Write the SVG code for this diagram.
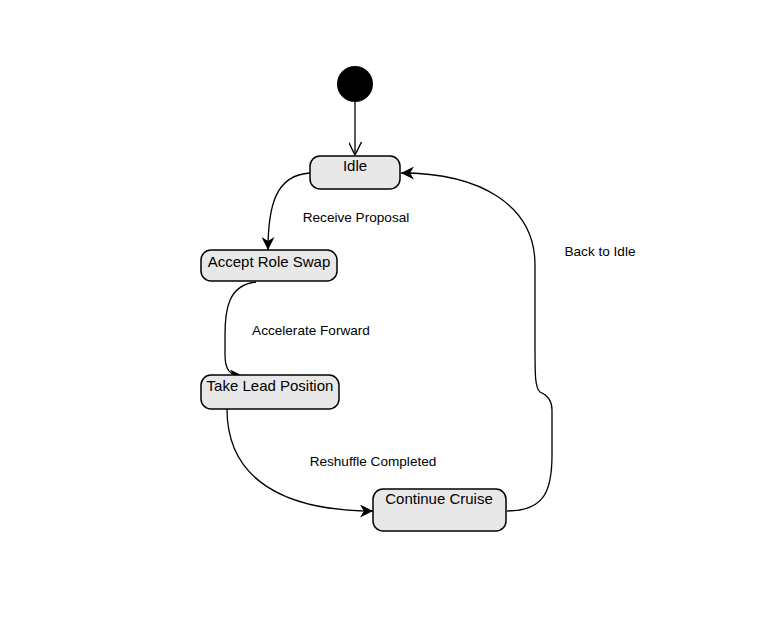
<svg xmlns="http://www.w3.org/2000/svg" width="776" height="627" viewBox="0 0 776 627">
<style>
.node rect{fill:#e8e8e8;stroke:#000;stroke-width:1.5}
.nt{font-family:"Liberation Sans",Arial,sans-serif;font-size:15px;fill:#000;text-anchor:middle}
.lt{font-family:"Liberation Sans",Arial,sans-serif;font-size:13.6px;fill:#000;text-anchor:middle}
.edge{fill:none;stroke:#000;stroke-width:1.3}
</style>
<defs>
<marker id="arr" viewBox="0 0 10 10" refX="10" refY="5" markerWidth="13" markerHeight="13" markerUnits="userSpaceOnUse" orient="auto">
<path d="M0,0 L10,5 L0,10 L3,5 z" fill="#000"/>
</marker>
<marker id="open" viewBox="0 0 10 10" refX="10" refY="5" markerWidth="13" markerHeight="13" markerUnits="userSpaceOnUse" orient="auto">
<path d="M0,0 L10,5 L0,10" fill="none" stroke="#000" stroke-width="1.1"/>
</marker>
</defs>
<rect width="776" height="627" fill="#fff"/>
<g id="connectors">
<path class="edge" d="M355,102 L355,155" marker-end="url(#open)"/>
<path class="edge" d="M310,173 C276,175 268,205 268,250" marker-end="url(#arr)"/>
<path class="edge" d="M256,282 C228,285 225,310 225,335 L225,355 C225,370 230,376 243,376" marker-end="url(#arr)"/>
<path class="edge" d="M227,409 C227,480 285,511 373,511" marker-end="url(#arr)"/>
<path class="edge" d="M507,511 C545,511 552,490 552,455 L552,410 C552,398 545,394 540,392 C535,388 535,375 535,345 L535,265 C535,205 480,173 401,173" marker-end="url(#arr)"/>
<text class="lt" x="356" y="222">Receive Proposal</text>
<text class="lt" x="311" y="335">Accelerate Forward</text>
<text class="lt" x="373" y="466">Reshuffle Completed</text>
<text class="lt" x="600" y="256">Back to Idle</text>
</g>
<g id="start"><circle cx="355" cy="84" r="18" fill="#000"/></g>
<g id="idle" class="node"><rect x="310" y="156" width="90" height="33" rx="10"/><text class="nt" x="355" y="171">Idle</text></g>
<g id="accept" class="node"><rect x="201" y="250" width="136" height="31" rx="10"/><text class="nt" x="269" y="267">Accept Role Swap</text></g>
<g id="takelead" class="node"><rect x="201" y="375" width="138" height="34" rx="10"/><text class="nt" x="270" y="391">Take Lead Position</text></g>
<g id="cruise" class="node"><rect x="373" y="489" width="133" height="42" rx="10"/><text class="nt" x="439" y="504">Continue Cruise</text></g>
</svg>
